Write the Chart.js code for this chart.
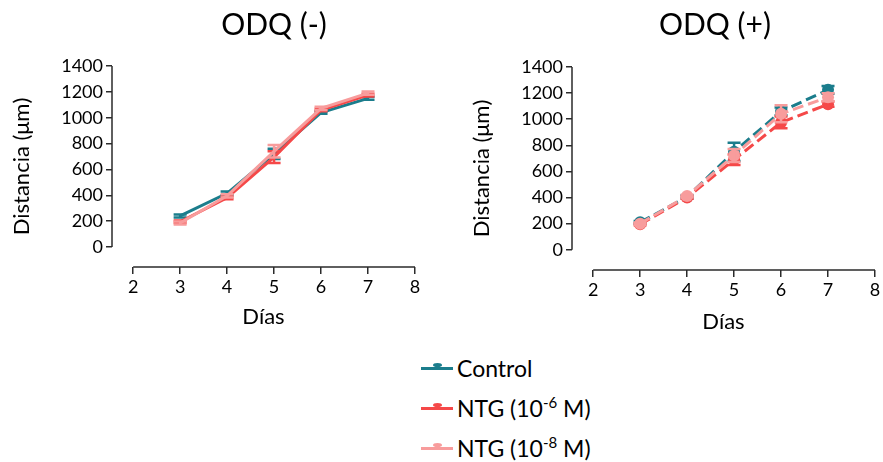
<!DOCTYPE html>
<html>
<head>
<meta charset="utf-8">
<script src="https://cdn.jsdelivr.net/npm/chart.js@4.4.1/dist/chart.umd.min.js"></script>
<style>
  html, body { margin: 0; padding: 0; background: #fff; }
  body { width: 883px; height: 462px; position: relative; overflow: hidden; font-family: Lato, "Open Sans", sans-serif; color: #000; }
  .plot { position: absolute; top: 0; }
  #legend { position: absolute; left: 421px; top: 348px; font-size: 23px; }
  .row { height: 40px; display: flex; align-items: center; position: relative; }
  .swatch { position: relative; width: 32px; height: 3px; margin-right: 4px; }
  .swatch::after { content: ""; position: absolute; left: 12px; top: -4px; width: 9px; height: 4px; border-radius: 50%; background: inherit; }
  sup { font-size: 15px; vertical-align: 9px; line-height: 0; }
</style>
</head>
<body>
<canvas id="left" class="plot" style="left:0px" width="440" height="340"></canvas>
<canvas id="right" class="plot" style="left:460px" width="423" height="340"></canvas>
<div id="legend"></div>
<script>
// Days on the x axis
const days = [3, 4, 5, 6, 7];
const xTicks = [2, 3, 4, 5, 6, 7, 8];
const yTicks = [0, 200, 400, 600, 800, 1000, 1200, 1400];

// Series names and colours
const seriesNames = ['Control', 'NTG (10-6 M)', 'NTG (10-8 M)'];
const seriesColors = ['#1b7d8c', '#f54848', '#f89c9c'];

// ODQ (-): mean distance (µm) and SEM per day
const odqMinusControl = [240, 415, 720, 1040, 1150];
const odqMinusNtg6 = [195, 380, 695, 1060, 1175];
const odqMinusNtg8 = [185, 395, 740, 1072, 1190];
const odqMinusControlErr = [12, 15, 40, 10, 12];
const odqMinusNtg6Err = [10, 10, 45, 10, 10];
const odqMinusNtg8Err = [12, 12, 48, 12, 12];

// ODQ (+): mean distance (µm) and SEM per day
const odqPlusControl = [210, 405, 750, 1060, 1225];
const odqPlusNtg6 = [195, 400, 690, 975, 1115];
const odqPlusNtg8 = [200, 412, 722, 1042, 1168];
const odqPlusControlErr = [10, 12, 70, 30, 30];
const odqPlusNtg6Err = [8, 10, 40, 45, 20];
const odqPlusNtg8Err = [8, 10, 50, 65, 30];

const FONT = 'Lato, "Open Sans", sans-serif';
const AXIS_COLOR = '#2b2b2b';

// Vertical error bars with caps, drawn right after each dataset
const errorBars = {
  id: 'errorBars',
  afterDatasetDraw(chart, args) {
    const ds = chart.data.datasets[args.index];
    if (!ds.errors) return;
    const y = chart.scales.y;
    const ctx = chart.ctx;
    ctx.save();
    ctx.strokeStyle = ds.borderColor;
    ctx.lineWidth = 2.5;
    args.meta.data.forEach((pt, i) => {
      const v = ds.data[i].y, e = ds.errors[i];
      const top = y.getPixelForValue(v + e), bot = y.getPixelForValue(v - e);
      ctx.beginPath();
      ctx.moveTo(pt.x, top); ctx.lineTo(pt.x, bot);
      ctx.moveTo(pt.x - 6.5, top); ctx.lineTo(pt.x + 6.5, top);
      ctx.moveTo(pt.x - 6.5, bot); ctx.lineTo(pt.x + 6.5, bot);
      ctx.stroke();
    });
    ctx.restore();
  }
};

// Detached axis lines spanning only the tick range
const detachedAxes = {
  id: 'detachedAxes',
  afterDraw(chart) {
    const { ctx, chartArea, scales } = chart;
    ctx.save();
    ctx.strokeStyle = AXIS_COLOR;
    ctx.lineWidth = 1.5;
    ctx.beginPath();
    ctx.moveTo(chartArea.left, scales.y.getPixelForValue(yTicks[0]));
    ctx.lineTo(chartArea.left, scales.y.getPixelForValue(yTicks[yTicks.length - 1]));
    ctx.moveTo(scales.x.getPixelForValue(xTicks[0]), chartArea.bottom);
    ctx.lineTo(scales.x.getPixelForValue(xTicks[xTicks.length - 1]), chartArea.bottom);
    ctx.stroke();
    ctx.restore();
  }
};

// Panel heading, centred on a given x
const panelTitle = {
  id: 'panelTitle',
  afterDraw(chart, args, opts) {
    const ctx = chart.ctx;
    ctx.save();
    ctx.font = '30px ' + FONT;
    ctx.fillStyle = '#000';
    ctx.textAlign = 'center';
    ctx.textBaseline = 'middle';
    ctx.fillText(opts.text, opts.x, opts.y);
    ctx.restore();
  }
};

function series(values) { return values.map((v, i) => ({ x: days[i], y: v })); }

function makeChart(id, sets, errs, dashed, title, xOpts) {
  const order = [2, 1, 0];
  const datasets = sets.map((vals, k) => ({
    label: seriesNames[k],
    data: series(vals),
    errors: errs[k],
    borderColor: seriesColors[k],
    backgroundColor: seriesColors[k],
    borderWidth: 3,
    borderDash: dashed ? [11, 5] : [],
    pointRadius: dashed ? 6 : 0,
    pointHoverRadius: dashed ? 6 : 0,
    pointBorderWidth: 0,
    tension: 0,
    order: order[k]
  }));
  return new Chart(document.getElementById(id), {
    type: 'line',
    data: { datasets },
    options: {
      responsive: false,
      animation: false,
      layout: { padding: { top: xOpts.top, right: xOpts.right, left: 0, bottom: 0 } },
      plugins: {
        legend: { display: false },
        tooltip: { enabled: false },
        panelTitle: { text: title, x: xOpts.titleX, y: 25 }
      },
      scales: {
        x: {
          type: 'linear',
          min: 1.55, max: 8,
          afterBuildTicks: s => { s.ticks = xTicks.map(v => ({ value: v })); },
          afterFit: s => { s.height = xOpts.xHeight; },
          border: { display: false },
          grid: { drawOnChartArea: false, drawTicks: true, tickLength: 7, color: AXIS_COLOR, lineWidth: 1.5 },
          ticks: { font: { family: FONT, size: 18 }, color: '#000', padding: 2, maxRotation: 0, callback: v => String(v) },
          title: { display: true, text: 'Días', font: { family: FONT, size: 22 }, color: '#000', padding: { top: 0, bottom: xOpts.titlePad } }
        },
        y: {
          min: -155, max: 1400,
          afterBuildTicks: s => { s.ticks = yTicks.map(v => ({ value: v })); },
          afterFit: s => { s.width = 112; },
          border: { display: false },
          grid: { drawOnChartArea: false, drawTicks: true, tickLength: 6, color: AXIS_COLOR, lineWidth: 1.5 },
          ticks: { font: { family: FONT, size: 18 }, color: '#000', padding: 3, callback: v => String(v) },
          title: { display: true, text: 'Distancia (μm)', font: { family: FONT, size: 22 }, color: '#000', padding: { top: 9, bottom: 0 } }
        }
      }
    },
    plugins: [errorBars, detachedAxes, panelTitle]
  });
}

makeChart('left',
  [odqMinusControl, odqMinusNtg6, odqMinusNtg8],
  [odqMinusControlErr, odqMinusNtg6Err, odqMinusNtg8Err],
  false, 'ODQ (-)',
  { top: 66, right: 25, xHeight: 73, titlePad: 10, titleX: 274 });

makeChart('right',
  [odqPlusControl, odqPlusNtg6, odqPlusNtg8],
  [odqPlusControlErr, odqPlusNtg6Err, odqPlusNtg8Err],
  true, 'ODQ (+)',
  { top: 67, right: 8, xHeight: 70, titlePad: 5, titleX: 255 });

// Shared legend below both panels
const legendLabels = ['Control', 'NTG (10<sup>-6</sup> M)', 'NTG (10<sup>-8</sup> M)'];
document.getElementById('legend').innerHTML = legendLabels.map((t, k) =>
  `<div class="row"><span class="swatch" style="background:${seriesColors[k]}"></span><span>${t}</span></div>`
).join('');
</script>
</body>
</html>
